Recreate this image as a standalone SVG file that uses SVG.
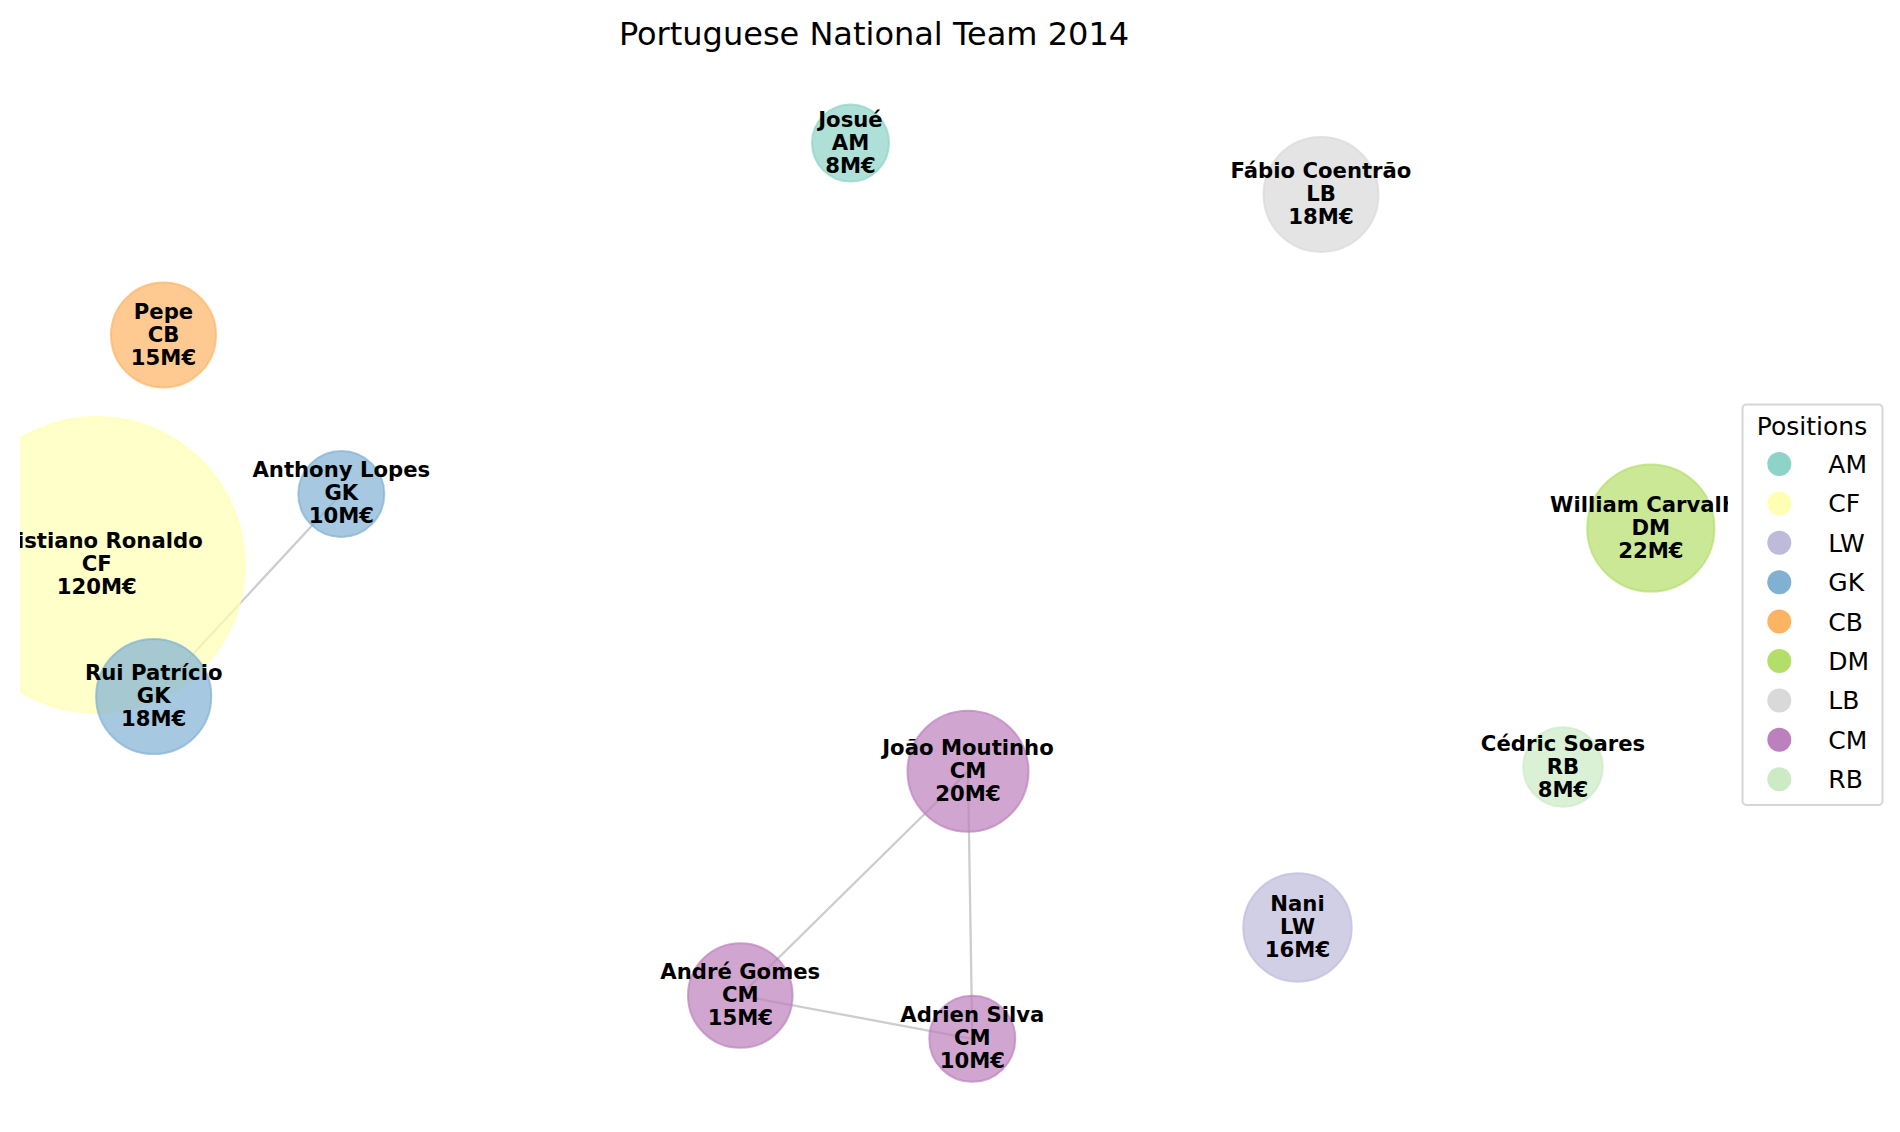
<svg xmlns="http://www.w3.org/2000/svg" width="1900" height="1132" viewBox="0 0 1900 1132">
<style>
.lbl{font-family:"DejaVu Sans","Liberation Sans",sans-serif;font-weight:bold;font-size:21.2px;fill:#000;text-anchor:middle}
.node circle{stroke-width:2}
.title{font-family:"DejaVu Sans","Liberation Sans",sans-serif;font-size:32px;fill:#000;text-anchor:middle}
.leg{font-family:"DejaVu Sans","Liberation Sans",sans-serif;font-size:25px;fill:#000}
.edge{stroke:#cdcdcd;stroke-width:2.3;fill:none}
.am{fill:#8dd3c7;stroke:#8dd3c7}
.cf{fill:#ffffb3;stroke:#ffffb3}
.lw{fill:#bebada;stroke:#bebada}
.gk{fill:#80b1d3;stroke:#80b1d3}
.cb{fill:#fdb462;stroke:#fdb462}
.dm{fill:#b3de69;stroke:#b3de69}
.lb{fill:#d9d9d9;stroke:#d9d9d9}
.cm{fill:#bc80bd;stroke:#bc80bd}
.rb{fill:#ccebc5;stroke:#ccebc5}
.node circle{fill-opacity:0.7;stroke-opacity:0.7}
</style>
<defs>
<clipPath id="ax"><rect x="20" y="60" width="1708" height="1060"/></clipPath>
</defs>
<rect width="1900" height="1132" fill="#fff"/>
<text class="title" x="874" y="45">Portuguese National Team 2014</text>
<g clip-path="url(#ax)">
<g id="connectors">
<line class="edge" x1="341.3" y1="494" x2="153.7" y2="696.5"/>
<line class="edge" x1="968" y1="771.3" x2="740.3" y2="995.5"/>
<line class="edge" x1="968" y1="771.3" x2="972.3" y2="1038.8"/>
<line class="edge" x1="740.3" y1="995.5" x2="972.3" y2="1038.8"/>
</g>
<g id="n-ronaldo" class="node"><circle class="cf" cx="96.8" cy="565" r="148"/></g>
<g id="n-josue" class="node"><circle class="am" cx="850.5" cy="143" r="38.5"/></g>
<g id="n-fabio" class="node"><circle class="lb" cx="1321" cy="194.5" r="57.5"/></g>
<g id="n-pepe" class="node"><circle class="cb" cx="163.5" cy="335" r="52.5"/></g>
<g id="n-anthony" class="node"><circle class="gk" cx="341.3" cy="494" r="43"/></g>
<g id="n-rui" class="node"><circle class="gk" cx="153.7" cy="696.5" r="57.6"/></g>
<g id="n-william" class="node"><circle class="dm" cx="1650.8" cy="528" r="63.6"/></g>
<g id="n-cedric" class="node"><circle class="rb" cx="1563" cy="767" r="39.7"/></g>
<g id="n-joao" class="node"><circle class="cm" cx="968" cy="771.3" r="60.5"/></g>
<g id="n-nani" class="node"><circle class="lw" cx="1297.5" cy="927.5" r="54.2"/></g>
<g id="n-andre" class="node"><circle class="cm" cx="740.3" cy="995.5" r="52.3"/></g>
<g id="n-adrien" class="node"><circle class="cm" cx="972.3" cy="1038.8" r="43"/></g>
<g id="labels">
<text class="lbl" x="96.8" y="548"><tspan x="96.8">Cristiano Ronaldo</tspan><tspan x="96.8" dy="23">CF</tspan><tspan x="96.8" dy="23">120M€</tspan></text>
<text class="lbl" x="850.5" y="126.5"><tspan x="850.5">Josué</tspan><tspan x="850.5" dy="23">AM</tspan><tspan x="850.5" dy="23">8M€</tspan></text>
<text class="lbl" x="1321" y="178"><tspan x="1321">Fábio Coentrão</tspan><tspan x="1321" dy="23">LB</tspan><tspan x="1321" dy="23">18M€</tspan></text>
<text class="lbl" x="163.5" y="318.5"><tspan x="163.5">Pepe</tspan><tspan x="163.5" dy="23">CB</tspan><tspan x="163.5" dy="23">15M€</tspan></text>
<text class="lbl" x="341.3" y="477.3"><tspan x="341.3">Anthony Lopes</tspan><tspan x="341.3" dy="23">GK</tspan><tspan x="341.3" dy="23">10M€</tspan></text>
<text class="lbl" x="153.7" y="679.5"><tspan x="153.7">Rui Patrício</tspan><tspan x="153.7" dy="23">GK</tspan><tspan x="153.7" dy="23">18M€</tspan></text>
<text class="lbl" x="1650.8" y="511.5"><tspan x="1650.8">William Carvalho</tspan><tspan x="1650.8" dy="23">DM</tspan><tspan x="1650.8" dy="23">22M€</tspan></text>
<text class="lbl" x="1563" y="750.5"><tspan x="1563">Cédric Soares</tspan><tspan x="1563" dy="23">RB</tspan><tspan x="1563" dy="23">8M€</tspan></text>
<text class="lbl" x="968" y="754.8"><tspan x="968">João Moutinho</tspan><tspan x="968" dy="23">CM</tspan><tspan x="968" dy="23">20M€</tspan></text>
<text class="lbl" x="1297.5" y="911"><tspan x="1297.5">Nani</tspan><tspan x="1297.5" dy="23">LW</tspan><tspan x="1297.5" dy="23">16M€</tspan></text>
<text class="lbl" x="740.3" y="979"><tspan x="740.3">André Gomes</tspan><tspan x="740.3" dy="23">CM</tspan><tspan x="740.3" dy="23">15M€</tspan></text>
<text class="lbl" x="972.3" y="1022.3"><tspan x="972.3">Adrien Silva</tspan><tspan x="972.3" dy="23">CM</tspan><tspan x="972.3" dy="23">10M€</tspan></text>
</g>
</g>
<g id="legend">
<rect x="1742.5" y="404.5" width="140" height="400.5" rx="4" fill="#fff" fill-opacity="0.8" stroke="#d6d6d6" stroke-width="2"/>
<text class="leg" x="1812" y="434.5" text-anchor="middle">Positions</text>
<circle cx="1779.3" cy="464" r="12" fill="#8dd3c7"/><text class="leg" x="1828.3" y="473">AM</text>
<circle cx="1779.3" cy="503.4" r="12" fill="#ffffb3"/><text class="leg" x="1828.3" y="512.4">CF</text>
<circle cx="1779.3" cy="542.8" r="12" fill="#bebada"/><text class="leg" x="1828.3" y="551.8">LW</text>
<circle cx="1779.3" cy="582.2" r="12" fill="#80b1d3"/><text class="leg" x="1828.3" y="591.2">GK</text>
<circle cx="1779.3" cy="621.6" r="12" fill="#fdb462"/><text class="leg" x="1828.3" y="630.6">CB</text>
<circle cx="1779.3" cy="661" r="12" fill="#b3de69"/><text class="leg" x="1828.3" y="670">DM</text>
<circle cx="1779.3" cy="700.4" r="12" fill="#d9d9d9"/><text class="leg" x="1828.3" y="709.4">LB</text>
<circle cx="1779.3" cy="739.8" r="12" fill="#bc80bd"/><text class="leg" x="1828.3" y="748.8">CM</text>
<circle cx="1779.3" cy="779.2" r="12" fill="#ccebc5"/><text class="leg" x="1828.3" y="788.2">RB</text>
</g>
</svg>
